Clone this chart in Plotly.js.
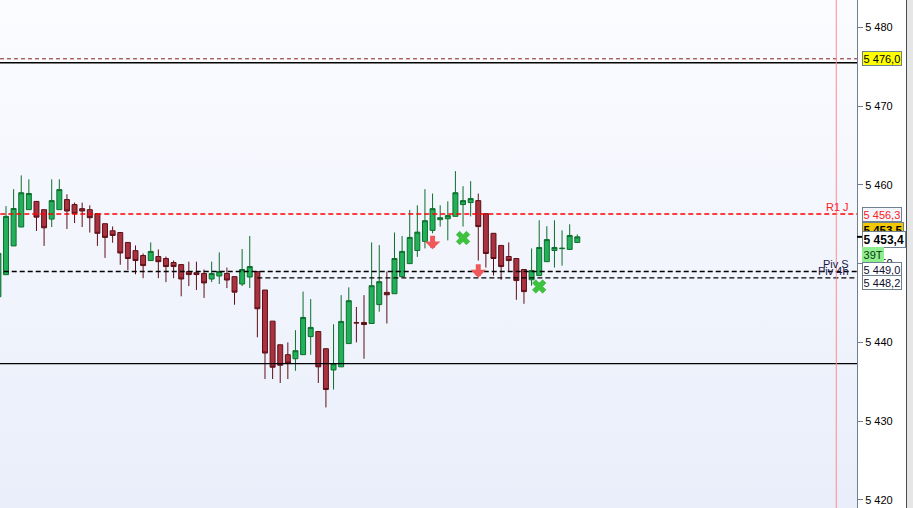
<!DOCTYPE html>
<html>
<head>
<meta charset="utf-8">
<script src="https://cdn.plot.ly/plotly-3.0.1.min.js"></script>
<style>
  html, body { margin: 0; padding: 0; background: #ffffff; }
  #chart {
    width: 913px; height: 508px;
    background:
      linear-gradient(to right, rgba(0,0,0,0) 857px, #ffffff 857px, #ffffff 906px, #4a5058 906px, #4a5058 907.5px, #e6e6e6 907.5px),
      linear-gradient(to bottom, #fbfcff 0%, #e9eefa 100%);
  }
</style>
</head>
<body>
<div id="chart"></div>
<script>
// ---- data ----
const opens  = [5445.8,5448.6,5452.25,5454.65,5456.85,5457.9,5456.85,5455.65,5456.85,5458.13,
                5457.5,5456.98,5456.85,5456.34,5455.07,5454.17,5453.95,5452.69,5451.65,5451.03,
                5450.39,5450.9,5450.65,5450.14,5449.88,5448.99,5448.85,5448.75,5448.05,5448.43,
                5448.75,5448.35,5447.41,5448.3,5448.99,5446.65,5442.7,5439.7,5438.44,5437.93,
                5438.44,5440.74,5441.38,5439.2,5436.5,5436.9,5439.85,5442.5,5442.53,5442.4,
                5444.8,5446.35,5446.18,5448.35,5450.0,5451.67,5452.82,5454.22,5455.58,5455.7,
                5456.0,5457.5,5457.75,5458.0,5456.34,5453.85,5452.31,5450.9,5450.65,5449.25,
                5447.95,5448.48,5450.25,5451.67,5451.9,5451.8,5452.69];
const highs  = [5451.3,5457.3,5459.45,5461.2,5460.7,5457.9,5456.85,5460.7,5460.7,5458.8,
                5457.75,5457.75,5457.4,5456.34,5455.07,5454.72,5453.95,5452.69,5452.31,5451.29,
                5452.69,5451.8,5450.9,5450.39,5449.88,5450.25,5450.25,5449.25,5450.25,5451.42,
                5449.5,5448.35,5451.85,5453.5,5448.99,5446.65,5442.7,5439.7,5440.0,5441.55,
                5446.45,5445.5,5441.38,5439.2,5442.3,5446.0,5446.98,5444.5,5446.0,5452.69,
                5452.35,5448.99,5453.95,5453.5,5456.8,5457.4,5459.45,5458.9,5457.4,5457.9,
                5461.74,5459.83,5460.47,5458.9,5456.34,5453.85,5452.31,5452.69,5450.65,5449.25,
                5451.93,5455.5,5454.75,5455.5,5454.22,5454.99,5453.7];
const lows   = [5445.8,5448.6,5452.25,5454.65,5456.85,5454.15,5452.25,5454.65,5456.85,5454.4,
                5455.15,5454.65,5453.95,5452.25,5450.73,5452.65,5449.85,5449.2,5448.65,5448.15,
                5450.39,5448.15,5447.65,5448.15,5445.85,5447.15,5446.65,5445.65,5447.65,5447.41,
                5446.9,5444.78,5447.15,5446.9,5440.65,5435.35,5435.35,5434.85,5435.35,5436.4,
                5438.44,5438.44,5434.85,5431.75,5434.02,5436.9,5439.85,5440.0,5437.93,5442.4,
                5443.9,5442.4,5446.18,5448.35,5450.0,5450.85,5451.93,5453.85,5454.7,5452.95,
                5456.0,5454.7,5456.0,5450.39,5449.5,5448.48,5447.95,5448.99,5445.41,5444.9,
                5447.2,5448.48,5450.25,5449.5,5449.75,5451.8,5452.69];
const closes = [5451.3,5456.0,5457.0,5459.0,5458.9,5455.9,5454.55,5458.0,5459.4,5456.68,
                5456.34,5456.68,5455.83,5453.85,5453.33,5453.58,5451.35,5450.65,5450.39,5449.75,
                5451.55,5450.25,5449.63,5449.63,5448.05,5448.61,5448.61,5447.55,5448.75,5448.99,
                5447.92,5446.38,5449.25,5449.63,5444.27,5438.65,5436.85,5437.1,5437.37,5438.95,
                5443.17,5441.9,5436.9,5434.02,5437.3,5442.66,5445.3,5442.48,5442.27,5447.2,
                5447.71,5446.05,5450.65,5451.55,5453.33,5454.0,5455.45,5456.98,5455.83,5456.1,
                5459.0,5458.0,5458.26,5454.7,5451.29,5450.65,5449.63,5450.39,5447.85,5446.45,
                5449.12,5452.05,5453.05,5452.05,5451.95,5453.58,5453.4];
const barIndex = opens.map((_, i) => i);

// levels
const levelNames  = ['R1 J', 'Piv S', 'Piv 4h'];
const levelValues = [5456.3, 5449.0, 5448.2];
const levelStart  = [-5, 0.7, 34];
const topDashed   = 5476.0;
const topSolid    = 5475.5;
const lowSolid    = 5437.3;
const sessionLine = 110;

// signals
const sellIdx = [57, 63];
const sellVal = [5451.82, 5448.22];
const buyIdx  = [61, 71];
const buyVal  = [5453.25, 5447.1];

// axis ticks
const tickValues = [5420, 5430, 5440, 5450, 5460, 5470, 5480];
const tickLabels = ['5 420', '5 430', '5 440', '5 450', '5 460', '5 470', '5 480'];

// right-hand price tags
const tagTexts  = ['5 476,0', '5 456,3', '5 453,5', '5 453,4', '5 449,0', '5 448,2'];
const tagValues = [5476.0, 5456.3, 5453.5, 5453.4, 5449.0, 5448.2];
const lastPrice = 5453.4;
const timerText = '39T';

// ---- build ----
const FONT = 'Liberation Sans, Arial, sans-serif';

const candles = {
  type: 'candlestick',
  x: barIndex, open: opens, high: highs, low: lows, close: closes,
  increasing: { line: { color: '#0d6e2c', width: 1 }, fillcolor: '#23b05a' },
  decreasing: { line: { color: '#5e0f16', width: 1 }, fillcolor: '#a8323f' },
  whiskerwidth: 0,
  hoverinfo: 'skip',
  showlegend: false
};

const buys = {
  type: 'scatter', mode: 'markers',
  x: buyIdx, y: buyVal,
  marker: { symbol: 'x', size: 12, color: '#3cc43c', line: { color: '#2a9a2a', width: 0.5 } },
  hoverinfo: 'skip', showlegend: false
};

const shapes = [];
shapes.push({ type: 'line', xref: 'paper', yref: 'y', x0: 0, x1: 1, y0: topDashed, y1: topDashed,
              line: { color: '#8a2020', width: 1, dash: '4px,3px' } });
shapes.push({ type: 'line', xref: 'paper', yref: 'y', x0: 0, x1: 1, y0: topSolid, y1: topSolid,
              line: { color: '#000000', width: 1.3 } });
shapes.push({ type: 'line', xref: 'paper', yref: 'y', x0: 0, x1: 1, y0: lowSolid, y1: lowSolid,
              line: { color: '#000000', width: 1.3 } });
const levelColors = ['#ff0000', '#000000', '#000000'];
levelValues.forEach((v, i) => {
  shapes.push({ type: 'line', xref: 'x', yref: 'y', x0: levelStart[i], x1: 300, y0: v, y1: v,
                line: { color: levelColors[i], width: 1.3, dash: '5px,3px' } });
});
shapes.push({ type: 'line', xref: 'x', yref: 'paper', x0: sessionLine, x1: sessionLine, y0: 0, y1: 1,
              line: { color: '#ff8c8c', width: 1 } });
shapes.push({ type: 'line', xref: 'paper', yref: 'y', x0: 1, x1: 1.0058, y0: lastPrice, y1: lastPrice,
              line: { color: '#000000', width: 2 } });

const annotations = [];
// level labels
const labelShift = [7, 8, 7];
const labelColor = ['#ff2020', '#1a1a48', '#1a1a48'];
levelNames.forEach((t, i) => {
  annotations.push({ xref: 'paper', yref: 'y', x: 850 / 857, y: levelValues[i], xanchor: 'right', yanchor: 'middle',
                     yshift: labelShift[i], text: t, showarrow: false, borderpad: 0,
                     font: { family: FONT, size: 11, color: labelColor[i] } });
});
// sell arrows
sellIdx.forEach((xi, i) => {
  annotations.push({ x: xi, y: sellVal[i], xref: 'x', yref: 'y', text: '', showarrow: true,
                     ax: 0, ay: -15, arrowhead: 1, arrowsize: 0.52, arrowwidth: 5,
                     arrowcolor: '#ee5a5a', standoff: 0 });
});
// price tags
const tagBg     = ['#ffff00', '#f3f6fc', '#f2c800', '#ffffff', '#ffffff', '#ffffff'];
const tagFg     = ['#000000', '#ff2020', '#000000', '#000000', '#101030', '#101030'];
const tagShift  = [0, 0, 7, -2.3, 2, -5];
const tagSize   = [11, 11, 11.5, 12, 11, 11];
const tagBold   = [false, false, true, true, false, false];
tagTexts.forEach((t, i) => {
  annotations.push({ xref: 'paper', yref: 'y', x: 861.7 / 857, y: tagValues[i], xanchor: 'left', yanchor: 'middle',
                     yshift: tagShift[i], showarrow: false,
                     text: tagBold[i] ? '<b>' + t + '</b>' : t,
                     bgcolor: tagBg[i], bordercolor: '#708090', borderwidth: 1, borderpad: 0.6,
                     font: { family: FONT, size: tagSize[i], color: tagFg[i] } });
  if (i === 3) {
    annotations.push({ xref: 'paper', yref: 'paper', x: 861.7 / 857, y: 1 - 254 / 508, xanchor: 'left', yanchor: 'middle',
                       showarrow: false, text: timerText, bgcolor: '#90ee90', bordercolor: '#90ee90',
                       borderwidth: 1, borderpad: 0.6, font: { family: FONT, size: 11, color: '#0a3a0a' } });
  }
});

const layout = {
  width: 913, height: 508,
  margin: { l: 0, r: 56, t: 0, b: 0, pad: 0 },
  paper_bgcolor: 'rgba(0,0,0,0)',
  plot_bgcolor: 'rgba(0,0,0,0)',
  separators: ', ',
  boxgap: 0.35, boxgroupgap: 0,
  showlegend: false,
  xaxis: { range: [0.212, 112.72], visible: false, rangeslider: { visible: false }, fixedrange: true },
  yaxis: {
    range: [5418.98, 5483.465], side: 'right',
    showgrid: false, zeroline: false,
    showline: true, linecolor: '#708090', linewidth: 1,
    ticks: 'outside', ticklen: 5, tickcolor: '#708090', tickwidth: 1,
    tickvals: tickValues, ticktext: tickLabels,
    tickfont: { family: FONT, size: 11, color: '#000000' },
    automargin: false, fixedrange: true
  },
  shapes: shapes,
  annotations: annotations,
  hovermode: false
};

Plotly.newPlot('chart', [candles, buys], layout, { displayModeBar: false, staticPlot: true });
</script>
</body>
</html>
